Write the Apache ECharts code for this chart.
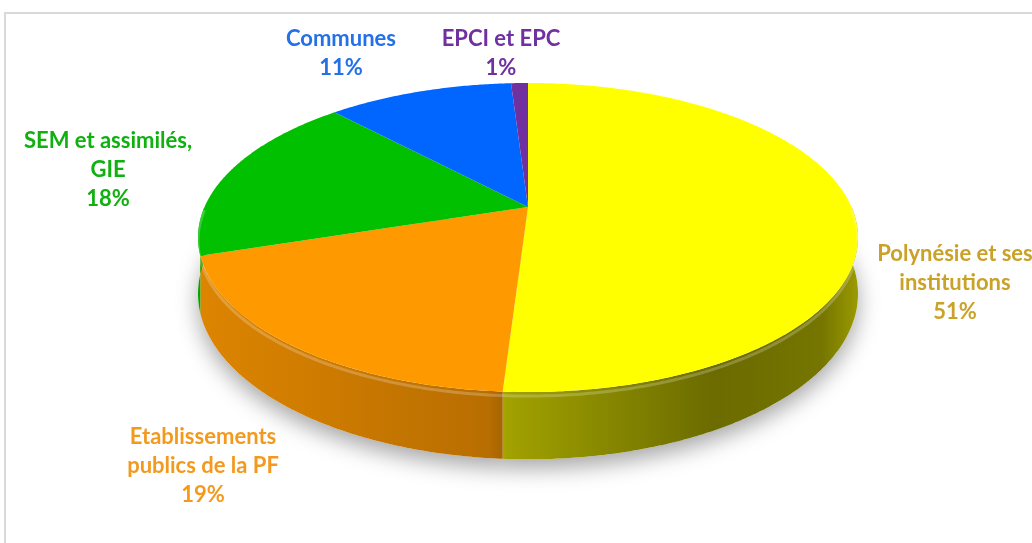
<!DOCTYPE html>
<html>
<head>
<meta charset="utf-8">
<script src="https://cdn.jsdelivr.net/npm/echarts@6/dist/echarts.min.js"></script>
<style>
html,body{margin:0;padding:0;background:#fff;}
#chart{width:1032px;height:543px;}
</style>
</head>
<body>
<div id="chart"></div>
<script>
// ---- data ----
const categories = ['Polynésie et ses\ninstitutions', 'Etablissements\npublics de la PF', 'SEM et assimilés,\nGIE', 'Communes', 'EPCI et EPC'];
const values = [51, 19, 18, 11, 1];

// ---- styles / layout ----
const topColors = ['#FFFF00', '#FF9900', '#00C000', '#0066FF', '#7030A0'];
const labelColors = ['#C9A227', '#F39A1E', '#10B010', '#2470E8', '#7030A0'];
const labelCenters = [[955, 283], [203, 466], [108, 170], [341, 53], [501, 53]];

const CX = 528, CY = 207;     // apex of the pie (top face)
const RX = 323.5, RY = 148.5; // projected radii
const U = 0.1974;             // perspective strength
const H = 54;                 // thickness

function proj(t, lvl) {
  const Z = Math.cos(t), X = Math.sin(t);
  const d = 1 + U * Z;
  return [CX + RX * X / d, CY - RY * Z / d + lvl * H / d];
}
function hexToRgb(h) {
  const n = parseInt(h.slice(1), 16);
  return [(n >> 16) & 255, (n >> 8) & 255, n & 255];
}
function shade(h, f) {
  const c = hexToRgb(h);
  return 'rgb(' + c.map(v => Math.round(v * f)).join(',') + ')';
}
const total = values.reduce((a, b) => a + b, 0);

function arc(a0, a1, lvl) {
  const pts = [];
  const n = Math.max(2, Math.ceil((a1 - a0) / (Math.PI / 360)));
  for (let k = 0; k <= n; k++) pts.push(proj(a0 + (a1 - a0) * k / n, lvl));
  return pts;
}

function renderItem(params, api) {
  const i = params.dataIndex;
  let before = 0;
  for (let k = 0; k < i; k++) before += values[k];
  const v = api.value(0);
  const a0 = before / total * Math.PI * 2;
  const a1 = (before + v) / total * Math.PI * 2;
  const children = [];

  // bottom face (only for the shadow)
  const bottom = [[CX, CY + H]].concat(arc(a0, a1, 1));
  children.push({
    type: 'polygon', z2: 0, shape: { points: bottom },
    style: { fill: '#ffffff', shadowBlur: 22, shadowColor: 'rgba(0,0,0,0.35)', shadowOffsetY: 9 }
  });

  // side wall (front half only)
  const s1 = Math.max(a0, Math.PI / 2), s2 = Math.min(a1, Math.PI * 3 / 2);
  if (s1 < s2) {
    const topArc = arc(s1, s2, 0);
    const botArc = arc(s1, s2, 1).reverse();
    const base = topColors[i];
    children.push({
      type: 'polygon', z2: 5, shape: { points: topArc.concat(botArc) },
      style: {
        fill: {
          type: 'linear', global: true, x: CX - RX - 10, y: 0, x2: CX + RX + 10, y2: 0,
          colorStops: [
            { offset: 0, color: shade(base, 0.87) },
            { offset: 0.44, color: shade(base, 0.72) },
            { offset: 0.47, color: shade(base, 0.63) },
            { offset: 0.78, color: shade(base, 0.42) },
            { offset: 0.94, color: shade(base, 0.46) },
            { offset: 1, color: shade(base, 0.62) }
          ]
        }
      }
    });
    // soft bevel highlight along the front rim
    children.push({
      type: 'polyline', z2: 11, shape: { points: arc(s1, s2, 0.06) },
      style: { stroke: 'rgba(255,255,255,0.22)', lineWidth: 3, fill: null }
    });
  }

  // top face
  const top = [[CX, CY]].concat(arc(a0, a1, 0));
  children.push({
    type: 'polygon', z2: 10, shape: { points: top },
    style: { fill: topColors[i] }
  });

  // label
  const pct = Math.round(v / total * 100) + '%';
  children.push({
    type: 'text', z2: 20,
    x: labelCenters[i][0], y: labelCenters[i][1],
    style: {
      text: categories[i] + '\n' + pct,
      fill: labelColors[i],
      font: 'bold 22px Lato',
      align: 'center', verticalAlign: 'middle',
      lineHeight: 29
    }
  });
  return { type: 'group', children: children };
}

const chart = echarts.init(document.getElementById('chart'), null, { renderer: 'canvas' });
chart.setOption({
  animation: false,
  backgroundColor: '#ffffff',
  graphic: [{
    type: 'rect', silent: true, z: -10,
    shape: { x: 5, y: 13, width: 1100, height: 600 },
    style: { fill: 'none', stroke: '#D9D9D9', lineWidth: 2 }
  }],
  series: [{
    type: 'custom',
    coordinateSystem: 'none',
    renderItem: renderItem,
    data: values.map(v => [v]),
    encode: { value: 0 }
  }]
});
</script>
</body>
</html>
